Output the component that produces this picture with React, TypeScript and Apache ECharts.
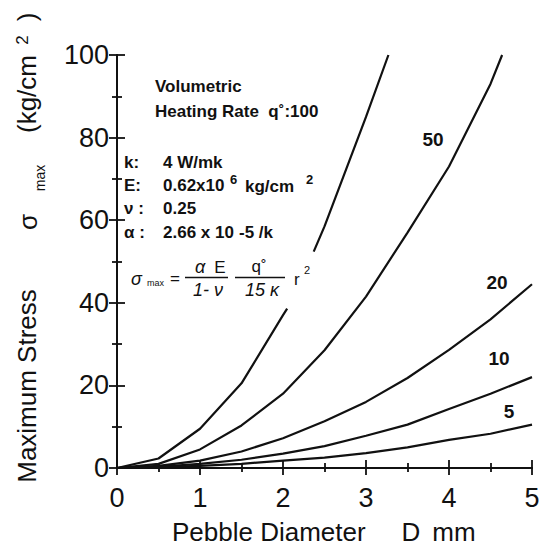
import React, { useEffect, useRef } from "react";
import * as echarts from "echarts";

// ---- data ----
const xTickLabels = ["0", "1", "2", "3", "4", "5"];
const yTickLabels = ["0", "20", "40", "60", "80", "100"];

const q100Lower = [[0, 0], [0.5, 2.3], [1, 9.5], [1.5, 20.5], [2, 37], [2.05, 38.6]];
const q100Upper = [[2.37, 52.4], [2.5, 58.5], [3, 85], [3.27, 100]];
const q50 = [[0, 0], [0.5, 1], [1, 4.5], [1.5, 10.3], [2, 18], [2.5, 28.5], [3, 41.5], [3.5, 57], [4, 73], [4.5, 93], [4.64, 100]];
const q20 = [[0, 0], [0.5, 0.5], [1, 1.8], [1.5, 4], [2, 7.2], [2.5, 11.3], [3, 16], [3.5, 21.8], [4, 28.6], [4.5, 36], [5, 44.5]];
const q10 = [[0, 0], [0.5, 0.3], [1, 1], [1.5, 2], [2, 3.5], [2.5, 5.3], [3, 7.8], [3.5, 10.5], [4, 14.3], [4.5, 18], [5, 22]];
const q5 = [[0, 0], [0.5, 0.2], [1, 0.5], [1.5, 1], [2, 1.8], [2.5, 2.5], [3, 3.6], [3.5, 5], [4, 6.8], [4.5, 8.3], [5, 10.5]];

const curveLabels = ["50", "20", "10", "5"];

const FF = '"Liberation Sans", Arial, Helvetica, sans-serif';
const INK = "#111";

function txt(x: number, y: number, text: string, font: string, align = "left", extra: any = {}) {
  return {
    type: "text",
    x,
    y,
    ...extra,
    style: {
      text,
      font,
      fill: INK,
      textAlign: align,
      align,
      textVerticalAlign: "middle",
      verticalAlign: "middle",
    },
    z: 10,
  };
}

export default function App() {
  const ref = useRef<HTMLDivElement>(null);

  useEffect(() => {
    if (!ref.current) return;
    const chart = echarts.init(ref.current, undefined, { renderer: "svg" });

    const lineStyle = { color: INK, width: 2.2 };
    const mkSeries = (data: number[][]) => ({
      type: "line",
      data,
      symbol: "none",
      smooth: false,
      lineStyle,
      xAxisIndex: 0,
      yAxisIndex: 0,
      clip: true,
    });

    const axisLine = { show: true, lineStyle: { color: INK, width: 2 } };
    const tickStyle = { color: INK, width: 1.8 };

    const bold17 = `bold 17px ${FF}`;
    const formula = `17px ${FF}`;
    const formulaIt = `italic 18px ${FF}`;

    const option: any = {
      animation: false,
      backgroundColor: "#fff",
      grid: { left: 117, right: 12, top: 55, bottom: 79 },
      xAxis: [
        {
          type: "value",
          min: 0,
          max: 5,
          interval: 1,
          position: "bottom",
          axisLine,
          axisTick: { show: true, inside: true, length: 8, lineStyle: tickStyle },
          minorTick: { show: true, splitNumber: 2, length: 5, lineStyle: tickStyle },
          splitLine: { show: false },
          axisLabel: {
            color: INK,
            fontSize: 27,
            fontFamily: FF,
            margin: 16,
            formatter: (v: number) => xTickLabels[Math.round(v)] ?? "",
          },
        },
        {
          type: "value",
          min: 0,
          max: 5,
          interval: 1,
          position: "top",
          axisLine,
          axisTick: { show: true, inside: true, length: 7, lineStyle: tickStyle },
          minorTick: { show: true, splitNumber: 2, length: 4, lineStyle: tickStyle },
          splitLine: { show: false },
          axisLabel: { show: false },
        },
      ],
      yAxis: [
        {
          type: "value",
          min: 0,
          max: 100,
          interval: 20,
          position: "left",
          axisLine,
          axisTick: { show: true, inside: true, length: 8, lineStyle: tickStyle },
          minorTick: { show: true, splitNumber: 2, length: 5, lineStyle: tickStyle },
          splitLine: { show: false },
          axisLabel: {
            color: INK,
            fontSize: 27,
            fontFamily: FF,
            margin: 8,
            formatter: (v: number) => yTickLabels[Math.round(v / 20)] ?? "",
          },
        },
        {
          type: "value",
          min: 0,
          max: 100,
          interval: 20,
          position: "right",
          axisLine,
          axisTick: { show: true, inside: true, length: 8, lineStyle: tickStyle },
          minorTick: { show: true, splitNumber: 2, length: 5, lineStyle: tickStyle },
          splitLine: { show: false },
          axisLabel: { show: false },
        },
      ],
      series: [
        mkSeries(q100Lower),
        mkSeries(q100Upper),
        mkSeries(q50),
        mkSeries(q20),
        mkSeries(q10),
        mkSeries(q5),
      ],
      graphic: [
        // Y axis title (rotated)
        txt(27, 386, "Maximum Stress", `26px ${FF}`, "center", { rotation: Math.PI / 2 }),
        txt(28, 222, "σ", `26px ${FF}`, "center", { rotation: Math.PI / 2 }),
        txt(40, 178, "max", `14px ${FF}`, "center", { rotation: Math.PI / 2 }),
        txt(27, 94, "(kg/cm", `26px ${FF}`, "center", { rotation: Math.PI / 2 }),
        txt(22, 40, "2", `17px ${FF}`, "center", { rotation: Math.PI / 2 }),
        txt(27, 17, ")", `26px ${FF}`, "center", { rotation: Math.PI / 2 }),
        // X axis title
        txt(172, 532, "Pebble Diameter", `26px ${FF}`, "left"),
        txt(411, 532, "D", `26px ${FF}`, "center"),
        txt(454, 532, "mm", `26px ${FF}`, "center"),
        // annotations
        txt(155, 86, "Volumetric", bold17),
        txt(155, 111, "Heating Rate  q˚:100", bold17),
        txt(124, 162, "k:", bold17),
        txt(163, 162, "4 W/mk", bold17),
        txt(124, 185, "E:", bold17),
        txt(163, 185, "0.62x10", bold17),
        txt(230, 179, "6", `bold 13px ${FF}`),
        txt(245, 186, "kg/cm", bold17),
        txt(306, 179, "2", `bold 13px ${FF}`),
        txt(124, 208, "ν :", bold17),
        txt(163, 208, "0.25", bold17),
        txt(124, 232, "α :", bold17),
        txt(163, 232, "2.66 x 10", bold17),
        txt(239, 232, "-5 /k", bold17),
        // formula
        txt(131, 279, "σ", formulaIt),
        txt(147, 283, "max", `9px ${FF}`),
        txt(170, 278, "=", formula),
        txt(200, 267, "α", formulaIt, "center"),
        txt(220, 267, "E", formula, "center"),
        { type: "line", shape: { x1: 185, y1: 277.5, x2: 228, y2: 277.5 }, style: { stroke: INK, lineWidth: 1.5 }, z: 10 },
        txt(208, 290, "1- ν", formulaIt, "center"),
        txt(259, 266, "q˚", formula, "center"),
        { type: "line", shape: { x1: 235, y1: 277.5, x2: 285, y2: 277.5 }, style: { stroke: INK, lineWidth: 1.5 }, z: 10 },
        txt(262, 290, "15 κ", formulaIt, "center"),
        txt(294, 279, "r", formula),
        txt(304, 270, "2", `11px ${FF}`),
        // curve labels
        txt(433, 139, curveLabels[0], `bold 19px ${FF}`, "center"),
        txt(497, 282, curveLabels[1], `bold 19px ${FF}`, "center"),
        txt(499, 358, curveLabels[2], `bold 19px ${FF}`, "center"),
        txt(509, 411, curveLabels[3], `bold 19px ${FF}`, "center"),
      ],
    };

    chart.setOption(option);
    return () => chart.dispose();
  }, []);

  return <div ref={ref} style={{ width: 544, height: 547, position: "absolute", left: 0, top: 0 }} />;
}
